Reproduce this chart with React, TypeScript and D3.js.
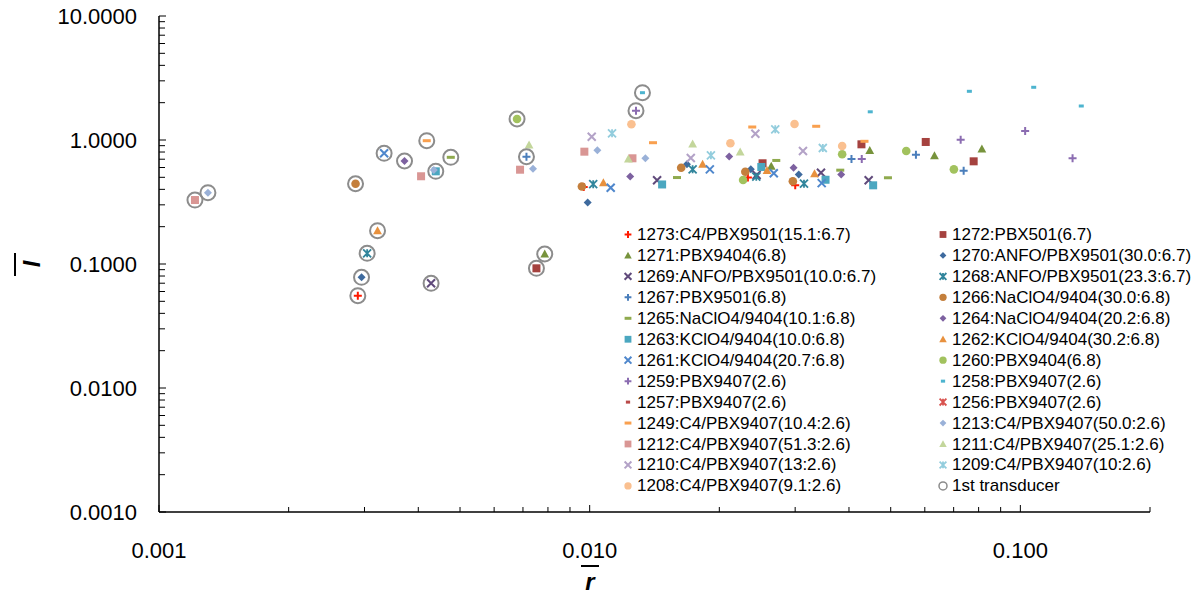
import { useEffect, useRef } from 'react';
import * as d3 from 'd3';

const W = 1200;
const H = 598;

const xMajor = [0.001, 0.01, 0.1];
const yMajor = [0.001, 0.01, 0.1, 1, 10];

// [r, I] pairs; first point of most series is the 1st transducer
const p1273 = [[0.002895, 0.0555], [0.009685, 0.418], [0.0233, 0.498], [0.03001, 0.431]];
const p1272 = [[0.007523, 0.0923], [0.0252, 0.649], [0.04276, 0.923], [0.0603, 0.964], [0.07791, 0.673]];
const p1271 = [[0.007864, 0.1204], [0.0264, 0.614], [0.0447, 0.826], [0.06318, 0.747], [0.08141, 0.846]];
const p1270 = [[0.002953, 0.0781], [0.009894, 0.313], [0.01682, 0.638], [0.02367, 0.58], [0.03058, 0.527]];
const p1269 = [[0.004283, 0.0699], [0.01434, 0.473], [0.02441, 0.522], [0.03444, 0.545], [0.04444, 0.473]];
const p1268 = [[0.003043, 0.122], [0.01019, 0.44], [0.01734, 0.58], [0.02437, 0.506], [0.03145, 0.444]];
const p1267 = [[0.007132, 0.733], [0.04054, 0.703], [0.05722, 0.76], [0.07385, 0.566]];
const p1266 = [[0.00286, 0.444], [0.009592, 0.422], [0.01631, 0.598], [0.02298, 0.555], [0.02963, 0.465]];
const p1265 = [[0.004759, 0.725], [0.01595, 0.498], [0.02712, 0.684], [0.03818, 0.571], [0.04927, 0.496]];
const p1264 = [[0.003716, 0.677], [0.01242, 0.508], [0.02108, 0.736], [0.02974, 0.597], [0.03837, 0.527]];
const p1263 = [[0.004392, 0.559], [0.01473, 0.438], [0.02503, 0.606], [0.03529, 0.478], [0.04552, 0.431]];
const p1262 = [[0.003217, 0.1856], [0.01076, 0.452], [0.01829, 0.638], [0.02581, 0.568], [0.03327, 0.536]];
const p1261 = [[0.003332, 0.781], [0.01119, 0.412], [0.01901, 0.58], [0.02676, 0.539], [0.03457, 0.449]];
const p1260 = [[0.006782, 1.477], [0.02271, 0.476], [0.03857, 0.767], [0.05433, 0.815], [0.07009, 0.58]];
const p1259 = [[0.01281, 1.723], [0.04283, 0.703], [0.07268, 1.004], [0.1026, 1.182], [0.1322, 0.712]];
const p1258 = [[0.01326, 2.407], [0.04482, 1.688], [0.07614, 2.47], [0.1074, 2.661], [0.1385, 1.88]];
const p1257: number[][] = [];
const p1256: number[][] = [];
const p1249 = [[0.004185, 0.987], [0.01403, 0.951], [0.02385, 1.273], [0.03357, 1.29], [0.04346, 0.976]];
const p1213 = [[0.001299, 0.376], [0.004346, 0.573], [0.007387, 0.587], [0.01042, 0.826], [0.01347, 0.712]];
const p1212 = [[0.001212, 0.328], [0.00406, 0.51], [0.006892, 0.576], [0.00972, 0.805], [0.01257, 0.712]];
const p1211 = [[0.007232, 0.9115], [0.0123, 0.703], [0.01734, 0.928], [0.02236, 0.8]];
const p1210 = [[0.01011, 1.063], [0.01717, 0.716], [0.02425, 1.124], [0.03128, 0.815]];
const p1209 = [[0.01127, 1.132], [0.01912, 0.753], [0.02697, 1.22], [0.03478, 0.862]];
const p1208 = [[0.0125, 1.338], [0.02122, 0.941], [0.0299, 1.346], [0.03857, 0.895]];
const pFirst = [p1273[0], p1272[0], p1271[0], p1270[0], p1269[0], p1268[0], p1267[0], p1266[0],
  p1265[0], p1264[0], p1263[0], p1262[0], p1261[0], p1260[0], p1259[0], p1258[0], p1249[0],
  p1213[0], p1212[0]];

const series = [
  { name: '1273:C4/PBX9501(15.1:6.7)', pts: p1273, shape: 'plus', color: '#FF1A00' },
  { name: '1272:PBX501(6.7)', pts: p1272, shape: 'square', color: '#A5423F' },
  { name: '1271:PBX9404(6.8)', pts: p1271, shape: 'triangle', color: '#77933C' },
  { name: '1270:ANFO/PBX9501(30.0:6.7)', pts: p1270, shape: 'diamond', color: '#3E6A9E' },
  { name: '1269:ANFO/PBX9501(10.0:6.7)', pts: p1269, shape: 'x', color: '#604A7B' },
  { name: '1268:ANFO/PBX9501(23.3:6.7)', pts: p1268, shape: 'star', color: '#31859C' },
  { name: '1267:PBX9501(6.8)', pts: p1267, shape: 'plus', color: '#4A7EBB' },
  { name: '1266:NaClO4/9404(30.0:6.8)', pts: p1266, shape: 'circle', color: '#C47F3C' },
  { name: '1265:NaClO4/9404(10.1:6.8)', pts: p1265, shape: 'dash', color: '#8FAA4E' },
  { name: '1264:NaClO4/9404(20.2:6.8)', pts: p1264, shape: 'diamond', color: '#7D61A0' },
  { name: '1263:KClO4/9404(10.0:6.8)', pts: p1263, shape: 'square', color: '#4BA7C0' },
  { name: '1262:KClO4/9404(30.2:6.8)', pts: p1262, shape: 'triangle', color: '#E8913E' },
  { name: '1261:KClO4/9404(20.7:6.8)', pts: p1261, shape: 'x', color: '#4F87CC' },
  { name: '1260:PBX9404(6.8)', pts: p1260, shape: 'circle', color: '#A2C25E' },
  { name: '1259:PBX9407(2.6)', pts: p1259, shape: 'plus', color: '#8B6CB1' },
  { name: '1258:PBX9407(2.6)', pts: p1258, shape: 'short', color: '#4DB4CF' },
  { name: '1257:PBX9407(2.6)', pts: p1257, shape: 'short', color: '#B94A48' },
  { name: '1256:PBX9407(2.6)', pts: p1256, shape: 'star', color: '#D9534F' },
  { name: '1249:C4/PBX9407(10.4:2.6)', pts: p1249, shape: 'dash', color: '#F9A04F' },
  { name: '1213:C4/PBX9407(50.0:2.6)', pts: p1213, shape: 'diamond', color: '#9AB1D8' },
  { name: '1212:C4/PBX9407(51.3:2.6)', pts: p1212, shape: 'square', color: '#D99694' },
  { name: '1211:C4/PBX9407(25.1:2.6)', pts: p1211, shape: 'triangle', color: '#C3D69B' },
  { name: '1210:C4/PBX9407(13:2.6)', pts: p1210, shape: 'x', color: '#B3A2C7' },
  { name: '1209:C4/PBX9407(10:2.6)', pts: p1209, shape: 'star', color: '#93CDDD' },
  { name: '1208:C4/PBX9407(9.1:2.6)', pts: p1208, shape: 'circle', color: '#FAC090' },
  { name: '1st transducer', pts: pFirst, shape: 'ring', color: '#8C8C8C' },
];

function drawMarker(g: any, shape: string, color: string, k: number) {
  const h = 4 * k;
  if (shape === 'plus') {
    g.append('path').attr('d', `M${-h},0H${h}M0,${-h}V${h}`).attr('stroke', color).attr('stroke-width', 2).attr('fill', 'none');
  } else if (shape === 'x') {
    g.append('path').attr('d', `M${-h},${-h}L${h},${h}M${-h},${h}L${h},${-h}`).attr('stroke', color).attr('stroke-width', 2).attr('fill', 'none');
  } else if (shape === 'star') {
    g.append('path').attr('d', `M${-h},${-h}L${h},${h}M${-h},${h}L${h},${-h}M0,${-h}V${h}`).attr('stroke', color).attr('stroke-width', 1.8).attr('fill', 'none');
  } else if (shape === 'square') {
    g.append('rect').attr('x', -h).attr('y', -h).attr('width', 2 * h).attr('height', 2 * h).attr('fill', color);
  } else if (shape === 'circle') {
    g.append('circle').attr('r', 4.3 * k).attr('fill', color);
  } else if (shape === 'triangle') {
    g.append('path').attr('d', `M0,${-h * 1.1}L${h * 1.1},${h * 0.9}L${-h * 1.1},${h * 0.9}Z`).attr('fill', color);
  } else if (shape === 'diamond') {
    g.append('path').attr('d', `M0,${-h}L${h},0L0,${h}L${-h},0Z`).attr('fill', color);
  } else if (shape === 'dash') {
    g.append('rect').attr('x', -h).attr('y', -1.5).attr('width', 2 * h).attr('height', 3).attr('fill', color);
  } else if (shape === 'short') {
    g.append('rect').attr('x', -2.5 * k).attr('y', -1.5).attr('width', 5 * k).attr('height', 3).attr('fill', color);
  } else if (shape === 'ring') {
    g.append('circle').attr('r', k < 1 ? 4 : 7.5).attr('fill', 'none').attr('stroke', color).attr('stroke-width', k < 1 ? 1.5 : 2);
  }
}

export default function App() {
  const svgRef = useRef<SVGSVGElement>(null);

  useEffect(() => {
    const svg = d3.select(svgRef.current);
    svg.selectAll('*').remove();

    const x = d3.scaleLog().domain([0.001, 0.2]).range([159, 1150]);
    const y = d3.scaleLog().domain([0.001, 10]).range([512, 16]);
    const font = '"Liberation Sans", Arial, sans-serif';

    // axes
    const ax = svg.append('g').attr('stroke', '#000');
    ax.append('line').attr('x1', 159).attr('x2', 1150).attr('y1', 512).attr('y2', 512).attr('stroke-width', 1.5);
    ax.append('line').attr('x1', 159).attr('x2', 159).attr('y1', 16).attr('y2', 512).attr('stroke-width', 1.5);
    x.ticks().forEach(t => {
      const major = Math.abs(Math.log10(t) - Math.round(Math.log10(t))) < 1e-6;
      ax.append('line').attr('x1', x(t)).attr('x2', x(t)).attr('y1', 512).attr('y2', 512 - (major ? 7 : 5)).attr('stroke-width', 1);
    });
    y.ticks().forEach(t => {
      const major = Math.abs(Math.log10(t) - Math.round(Math.log10(t))) < 1e-6;
      ax.append('line').attr('x1', 159).attr('x2', 159 + (major ? 7 : 6)).attr('y1', y(t)).attr('y2', y(t)).attr('stroke-width', 1);
    });

    svg.append('g').selectAll('text').data(xMajor).enter().append('text')
      .attr('x', d => x(d)).attr('y', 550).attr('text-anchor', 'middle').attr('dominant-baseline', 'central')
      .attr('font-family', font).attr('font-size', 22).attr('fill', '#000')
      .text(d => d3.format('.3f')(d));
    svg.append('g').selectAll('text').data(yMajor).enter().append('text')
      .attr('x', 137).attr('y', d => y(d)).attr('text-anchor', 'end').attr('dominant-baseline', 'central')
      .attr('font-family', font).attr('font-size', 22).attr('fill', '#000')
      .text(d => d3.format('.4f')(d));

    // axis titles with overbar
    svg.append('text').attr('x', 590).attr('y', 590).attr('text-anchor', 'middle')
      .attr('font-family', font).attr('font-size', 24).attr('font-style', 'italic').attr('font-weight', 'bold').text('r');
    svg.append('line').attr('x1', 581).attr('x2', 599).attr('y1', 566).attr('y2', 566).attr('stroke', '#000').attr('stroke-width', 2);
    svg.append('text').attr('transform', 'translate(40,264) rotate(-90)').attr('text-anchor', 'middle')
      .attr('font-family', font).attr('font-size', 24).attr('font-style', 'italic').attr('font-weight', 'bold').text('I');
    svg.append('line').attr('x1', 15).attr('x2', 15).attr('y1', 253).attr('y2', 276).attr('stroke', '#000').attr('stroke-width', 2);

    // points
    const plot = svg.append('g');
    series.forEach(s => {
      s.pts.forEach(p => {
        const g = plot.append('g').attr('transform', `translate(${x(p[0])},${y(p[1])})`);
        drawMarker(g, s.shape, s.color, 1);
      });
    });

    // legend
    const leg = svg.append('g');
    series.forEach((s, i) => {
      const col = i % 2;
      const row = Math.floor(i / 2);
      const lx = col === 0 ? 628 : 943;
      const ly = 234.5 + row * 20.95;
      const g = leg.append('g').attr('transform', `translate(${lx},${ly})`);
      drawMarker(g, s.shape, s.color, 0.85);
      leg.append('text').attr('x', lx + 9).attr('y', ly).attr('dominant-baseline', 'central')
        .attr('font-family', font).attr('font-size', 17).attr('fill', '#000').text(s.name);
    });
  }, []);

  return (
    <div style={{ position: 'absolute', left: 0, top: 0, width: W, height: H, background: '#fff' }}>
      <svg ref={svgRef} width={W} height={H} style={{ display: 'block' }}></svg>
    </div>
  );
}
